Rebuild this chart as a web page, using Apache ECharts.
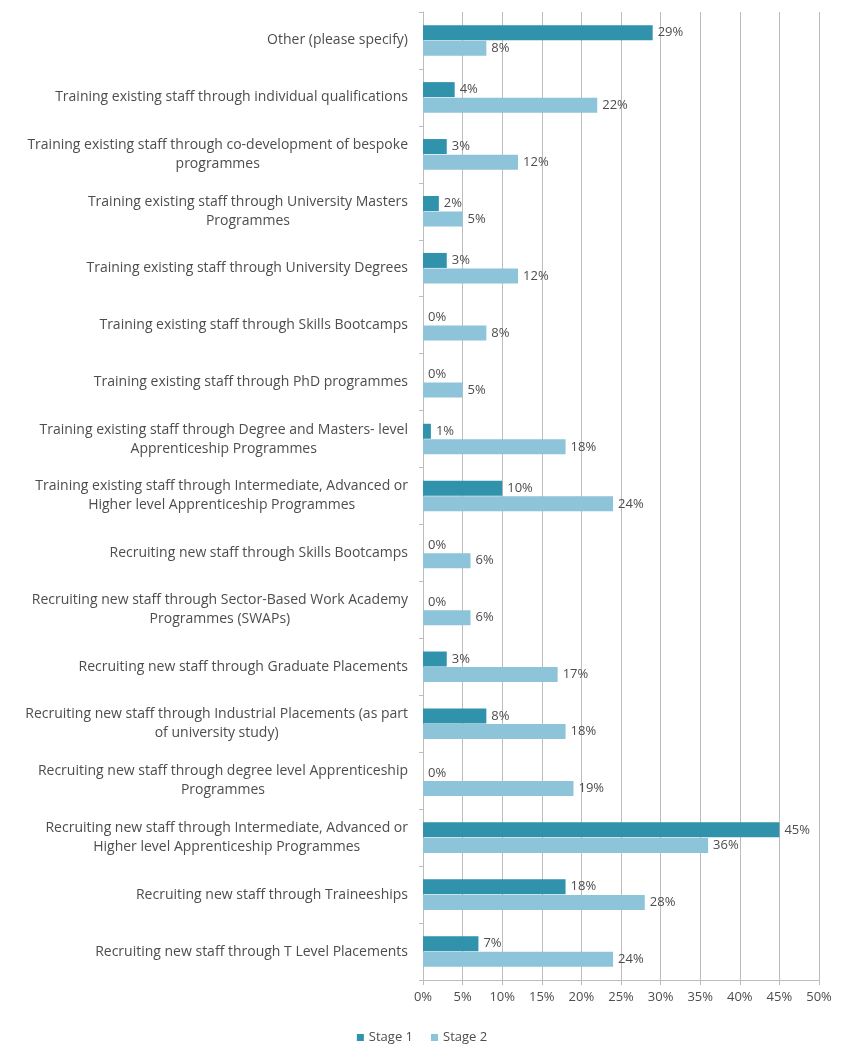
<!DOCTYPE html>
<html>
<head>
<meta charset="utf-8">
<script src="https://cdn.jsdelivr.net/npm/echarts@6/dist/echarts.min.js"></script>
<style>
  html, body { margin: 0; padding: 0; background: #ffffff; }
  #chart { width: 844px; height: 1049px; }
</style>
</head>
<body>
<div id="chart"></div>
<script>
// Category labels, top to bottom ("\n" marks the line break in long labels)
const categories = [
  'Other (please specify)',
  'Training existing staff through individual qualifications',
  'Training existing staff through co-development of bespoke\nprogrammes',
  'Training existing staff through University Masters\nProgrammes',
  'Training existing staff through University Degrees',
  'Training existing staff through Skills Bootcamps',
  'Training existing staff through PhD programmes',
  'Training existing staff through Degree and Masters- level\nApprenticeship Programmes',
  'Training existing staff through Intermediate, Advanced or\nHigher level Apprenticeship Programmes',
  'Recruiting new staff through Skills Bootcamps',
  'Recruiting new staff through Sector-Based Work Academy\nProgrammes (SWAPs)',
  'Recruiting new staff through Graduate Placements',
  'Recruiting new staff through Industrial Placements (as part\nof university study)',
  'Recruiting new staff through degree level Apprenticeship\nProgrammes',
  'Recruiting new staff through Intermediate, Advanced or\nHigher level Apprenticeship Programmes',
  'Recruiting new staff through Traineeships',
  'Recruiting new staff through T Level Placements'
];

// Percentages per category
const stage1 = [29, 4, 3, 2, 3, 0, 0, 1, 10, 0, 0, 3, 8, 0, 45, 18, 7];
const stage2 = [8, 22, 12, 5, 12, 8, 5, 18, 24, 6, 6, 17, 18, 19, 36, 28, 24];

// Value axis ticks
const xTicks = [0, 5, 10, 15, 20, 25, 30, 35, 40, 45, 50];

const seriesNames = ['Stage 1', 'Stage 2'];

const FONT = '"Open Sans"';
const TEXT = '#4d4d4d';

const chart = echarts.init(document.getElementById('chart'), null, { renderer: 'canvas' });

const labelStyle = {
  show: true,
  position: 'right',
  distance: 5,
  formatter: '{c}%',
  color: TEXT,
  fontFamily: FONT,
  fontSize: 13
};

chart.setOption({
  backgroundColor: '#ffffff',
  animation: false,
  grid: { left: 423, right: 25, top: 12, bottom: 69, containLabel: false },
  legend: {
    bottom: 0,
    left: 'center',
    data: seriesNames,
    icon: 'rect',
    itemWidth: 7,
    itemHeight: 7,
    itemGap: 18,
    textStyle: { color: TEXT, fontFamily: FONT, fontSize: 13 }
  },
  xAxis: {
    type: 'value',
    min: xTicks[0],
    max: xTicks[xTicks.length - 1],
    interval: xTicks[1] - xTicks[0],
    axisLine: { show: true, lineStyle: { color: '#bdbdbd' } },
    axisTick: { show: true, length: 5, lineStyle: { color: '#bdbdbd' } },
    splitLine: { show: true, lineStyle: { color: '#bdbdbd', width: 1 } },
    axisLabel: {
      formatter: '{value}%',
      color: TEXT,
      fontFamily: FONT,
      fontSize: 13,
      margin: 11
    }
  },
  yAxis: {
    type: 'category',
    inverse: true,
    data: categories,
    axisLine: { show: true, lineStyle: { color: '#bdbdbd' } },
    axisTick: { show: true, length: 4, lineStyle: { color: '#bdbdbd' } },
    splitLine: { show: false },
    axisLabel: {
      margin: 15,
      color: TEXT,
      fontFamily: FONT,
      fontSize: 14,
      lineHeight: 19,
      formatter: function (v) {
        return v.split('\n').map(function (l) { return '{c|' + l + '}'; }).join('\n');
      },
      rich: {
        c: { align: 'center', color: TEXT, fontFamily: FONT, fontSize: 14, lineHeight: 19 }
      }
    }
  },
  series: [
    {
      name: seriesNames[0],
      type: 'bar',
      data: stage1,
      barWidth: 15,
      barGap: '4%',
      itemStyle: { color: '#3192ac' },
      label: labelStyle
    },
    {
      name: seriesNames[1],
      type: 'bar',
      data: stage2,
      barWidth: 15,
      barGap: '4%',
      itemStyle: { color: '#8dc4d9' },
      label: labelStyle
    }
  ]
});
</script>
</body>
</html>
